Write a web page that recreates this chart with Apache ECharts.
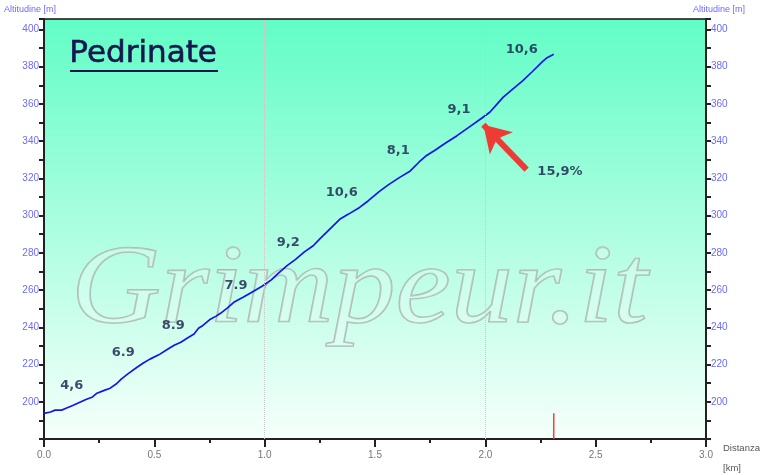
<!DOCTYPE html>
<html><head><meta charset="utf-8">
<script src="https://cdn.jsdelivr.net/npm/echarts@6/dist/echarts.min.js"></script>
<style>html,body{margin:0;padding:0;background:#fff}#c{width:760px;height:475px}</style>
</head><body><div id="c"></div>
<script>
// Profile: distance [km] and altitude [m]
var distKm = [0.00,0.03,0.05,0.08,0.10,0.13,0.16,0.19,0.22,0.24,0.27,0.30,0.33,0.35,0.38,0.42,0.45,0.48,0.52,0.56,0.59,0.62,0.65,0.68,0.70,0.72,0.75,0.78,0.80,0.83,0.86,0.90,0.94,0.99,1.03,1.06,1.10,1.14,1.18,1.22,1.25,1.28,1.31,1.34,1.38,1.43,1.47,1.52,1.56,1.61,1.66,1.70,1.73,1.77,1.82,1.87,1.92,1.98,2.02,2.05,2.08,2.12,2.17,2.21,2.26,2.28,2.31];
var altM = [193.8,194.5,195.5,195.5,196.5,198.0,199.6,201.2,202.6,204.6,206.0,207.3,209.8,212.2,215.0,218.4,220.8,222.9,225.2,228.2,230.3,232.0,234.2,236.4,239.5,241.0,244.0,246.0,247.5,250.3,253.4,256.0,258.7,262.2,265.5,268.8,273.0,276.5,280.5,283.8,287.5,291.0,294.5,298.0,300.8,304.4,308.0,313.0,316.5,320.4,324.0,328.8,332.0,335.0,339.0,342.8,347.0,352.0,355.5,359.5,363.5,367.5,372.5,377.0,382.8,384.8,386.7];
// Gradient annotations
var gradText = ['4,6','6.9','8.9','7.9','9,2','10,6','8,1','9,1','10,6','15,9%'];
var gradKm   = [0.126,0.359,0.586,0.870,1.107,1.349,1.605,1.881,2.165,2.338];
var gradAlt  = [208.9,226.5,241.1,262.5,285.4,312.5,335.0,356.9,389.0,323.8];
// Max-gradient arrow (tail -> tip)
var arrowKm = [2.187, 1.991];
var arrowAlt = [324.7, 348.8];
// End marker (distance of the summit, from axis floor up to start altitude)
var endKm = [2.31, 2.31];
var endMarkAlt = [180, 193.8];
// Axes
var xMin = 0, xMax = 3, xStep = 0.5;
var yMin = 180, yMax = 405.6, yStep = 20;
var gridKm = [1, 2];
var titleText = 'Pedrinate';
var yName = 'Altitudine [m]';
var xName = ['Distanza', '[km]'];
var watermark = 'Grimpeur.it';

var profile = distKm.map(function(d, i){ return [d, altM[i]]; });
var labels = gradKm.map(function(d, i){ return [d, gradAlt[i], gradText[i]]; });
var endMark = endKm.map(function(d, i){ return [d, endMarkAlt[i]]; });

var chart = echarts.init(document.getElementById('c'), null, {renderer:'canvas'});
var yLabelColor = '#6a6aff';
function yAxisDef(pos){
  return {
    type:'value', position:pos, min:yMin, max:yMax, interval:yStep,
    axisLine:{show:true, onZero:false, lineStyle:{color:'#222', width:2}},
    axisTick:{show:true, length:5, lineStyle:{color:'#222', width:2}},
    minorTick:{show:true, splitNumber:2, length:5, lineStyle:{color:'#222', width:2}},
    splitLine:{show:false},
    axisLabel:{color:yLabelColor, fontSize:10, fontFamily:'Liberation Sans', margin:5,
      showMinLabel:false, showMaxLabel:false,
      formatter:function(v){ return (v % 20 === 0 && v > yMin) ? String(v) : ''; }}
  };
}
var option = {
  animation:false,
  grid:{left:44, right:54, top:19, bottom:36, show:true, borderColor:'#111', borderWidth:1.5,
    backgroundColor:new echarts.graphic.LinearGradient(0,0,0,1,[{offset:0,color:'#62fdc6'},{offset:1,color:'#f6fffb'}])},
  xAxis:{type:'value', min:xMin, max:xMax, interval:xStep,
    axisLine:{show:true, onZero:false, lineStyle:{color:'#222', width:2}},
    axisTick:{show:true, length:8, lineStyle:{color:'#222', width:2}},
    minorTick:{show:true, splitNumber:2, length:4, lineStyle:{color:'#222', width:2}},
    splitLine:{show:false},
    axisLabel:{color:'#777', fontSize:10, fontFamily:'Liberation Sans', margin:11,
      formatter:function(v){ return v.toFixed(1); }}
  },
  yAxis:[yAxisDef('left'), yAxisDef('right')],
  graphic:[
    {type:'text', z:1, silent:true, left:70, top:236, scaleX:1.11,
      style:{text:watermark, font:'italic 112px "Liberation Serif"', fill:'rgba(255,255,255,0.22)', stroke:'#a9bdb6', lineWidth:1.6}},
    {type:'text', z:5, left:69, top:38, style:{text:titleText, font:'31px "DejaVu Sans"', fill:'#17174f', stroke:'#17174f', lineWidth:0.6}},
    {type:'rect', z:5, shape:{x:70, y:70, width:148, height:2}, style:{fill:'#17174f'}},
    {type:'text', left:4, top:5, style:{text:yName, font:'9px "Liberation Sans"', fill:yLabelColor}},
    {type:'text', left:693, top:5, style:{text:yName, font:'9px "Liberation Sans"', fill:yLabelColor}},
    {type:'text', left:723, top:443, style:{text:xName[0], font:'9.5px "Liberation Sans"', fill:'#555'}},
    {type:'text', left:723, top:463, style:{text:xName[1], font:'9.5px "Liberation Sans"', fill:'#555'}}
  ],
  series:[
    {type:'line', data:profile, showSymbol:false, symbol:'none', z:3,
      lineStyle:{color:'#1414f0', width:1.7},
      markLine:{silent:true, symbol:'none', label:{show:false}, animation:false,
        lineStyle:{color:'#c8c8c8', type:'dotted', width:1},
        data: gridKm.map(function(k){ return {xAxis:k}; })}
    },
    {type:'line', data:endMark, showSymbol:false, symbol:'none', z:3,
      lineStyle:{color:'#ff3a3a', width:1.5}},
    {type:'line', data:[], z:4,
      markLine:{silent:true, symbol:['none','arrow'], symbolSize:[24,26], label:{show:false}, animation:false,
        lineStyle:{color:'#ee3b33', type:'solid', width:6},
        data:[[{coord:[arrowKm[0], arrowAlt[0]]}, {coord:[arrowKm[1], arrowAlt[1]]}]]}
    },
    {type:'scatter', data:labels, symbolSize:1, itemStyle:{color:'rgba(0,0,0,0)'}, z:4,
      label:{show:true, position:'inside', color:'#161c4a', fontSize:13, fontWeight:'bold',
        fontFamily:'DejaVu Sans', formatter:function(p){ return p.data[2]; }}}
  ]
};
chart.setOption(option);
</script></body></html>
